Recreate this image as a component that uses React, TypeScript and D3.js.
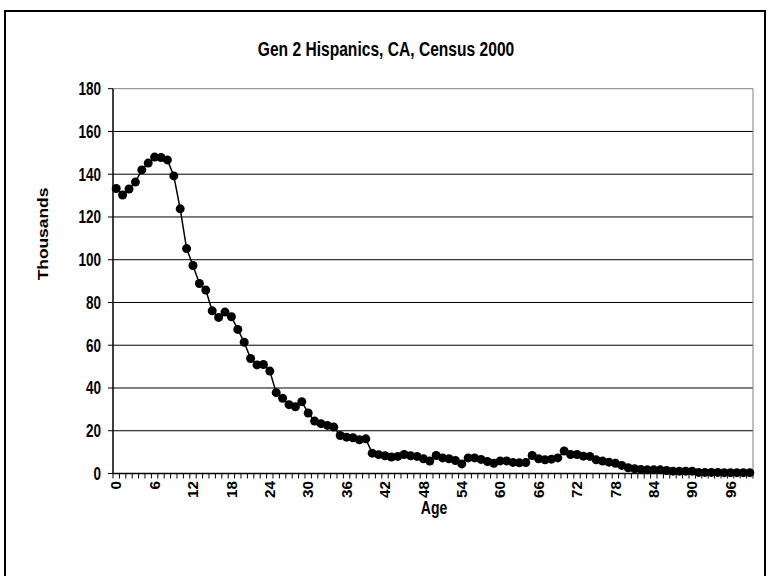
import * as d3 from "d3";
import React from "react";

const ages = d3.range(0, 100);
const thousands = [
  133.3, 130.3, 133.1, 136.3, 142, 145.2, 148, 147.8, 146.7, 139.2,
  123.8, 105.2, 97.3, 88.9, 85.8, 76.1, 73, 75.5, 73.3, 67.4,
  61.4, 53.8, 50.8, 51, 47.9, 37.8, 35.2, 32.2, 31.2, 33.6,
  28.3, 24.5, 23.3, 22.5, 21.7, 17.8, 17, 16.7, 15.8, 16.2,
  9.5, 8.8, 8.3, 7.7, 8, 8.9, 8.3, 8, 6.9, 5.8,
  8.4, 7.3, 6.9, 6.1, 4.5, 7.3, 7.3, 6.6, 5.6, 4.8,
  5.9, 5.9, 5.2, 5, 5.1, 8.4, 6.9, 6.4, 6.7, 7.3,
  10.5, 8.9, 8.9, 8.1, 8, 6.4, 5.8, 5.3, 4.8, 3.8,
  2.7, 2.2, 1.9, 1.7, 1.7, 1.7, 1.4, 1.1, 1.1, 1.1,
  1.1, 0.5, 0.5, 0.5, 0.5, 0.4, 0.4, 0.4, 0.4, 0.4,
];
const yTicks = [0, 20, 40, 60, 80, 100, 120, 140, 160, 180];
const xLabelAges = ages.filter(a => a % 6 === 0);

const W = 769, H = 576;
const left = 113, right = 753, top = 88.7, bottom = 473.5;
const font = "'Liberation Sans', Arial, sans-serif";

// text drawn at (x, y), stretched vertically like the reference
const T: React.FC<{ x: number; y: number; size: number; anchor?: string; rotate?: number; sy?: number; dy?: string; children: React.ReactNode }> =
  ({ x, y, size, anchor = "start", rotate = 0, sy = 1.33, dy, children }) => (
    <text transform={`translate(${x},${y}) scale(1,${sy}) rotate(${rotate})`} textAnchor={anchor}
      dy={dy} fontSize={size} fontWeight="bold">{children}</text>
  );

const App: React.FC = () => {
  const x = d3.scaleBand<number>().domain(ages).range([left, right]).padding(0);
  const y = d3.scaleLinear().domain([0, 180]).range([bottom, top]);
  const cx = (a: number) => x(a)! + x.bandwidth() / 2;
  const line = d3.line<number>().x((_, i) => cx(ages[i])).y(v => y(v));

  return (
    <svg width={W} height={H} style={{ position: "absolute", left: 0, top: 0, background: "white" }} fontFamily={font}>
      <rect x={5} y={11} width={760} height={H + 20} fill="white" stroke="black" strokeWidth={2} />
      <T x={386} y={56} size={15.6} anchor="middle">Gen 2 Hispanics, CA, Census 2000</T>

      {yTicks.filter(t => t > 0 && t < 180).map(t => (
        <line key={t} x1={left} x2={right} y1={y(t)} y2={y(t)} stroke="black" strokeWidth={1} />
      ))}
      <line x1={left} x2={right} y1={y(180)} y2={y(180)} stroke="#808080" strokeWidth={1} />
      <line x1={right} x2={right} y1={top} y2={bottom} stroke="#808080" strokeWidth={1} />

      {/* y axis */}
      <line x1={left} x2={left} y1={top} y2={bottom} stroke="black" strokeWidth={1.5} />
      {yTicks.map(t => (
        <g key={t}>
          <line x1={left - 5} x2={left} y1={y(t)} y2={y(t)} stroke="black" />
          <T x={left - 12} y={y(t)} dy="0.36em" size={13.5} anchor="end">{t}</T>
        </g>
      ))}
      <T x={43} y={234} dy="0.36em" size={14.5} sy={1.2} anchor="middle" rotate={-90}>Thousands</T>

      {/* x axis */}
      <line x1={left} x2={right} y1={bottom} y2={bottom} stroke="black" strokeWidth={1.5} />
      {ages.concat([100]).map(a => {
        const xx = a < 100 ? x(a)! : right;
        return <line key={a} x1={xx} x2={xx} y1={bottom} y2={bottom + 5} stroke="black" />;
      })}
      {xLabelAges.map(a => (
        <T key={a} x={cx(a)} y={481} dy="0.36em" size={14.5} sy={1.05} anchor="end" rotate={-90}>{a}</T>
      ))}
      <T x={434} y={514} size={14} anchor="middle">Age</T>

      <path d={line(thousands)!} fill="none" stroke="black" strokeWidth={1.5} />
      {thousands.map((v, i) => (
        <circle key={i} cx={cx(ages[i])} cy={y(v)} r={4.5} fill="black" />
      ))}
    </svg>
  );
};

export default App;
